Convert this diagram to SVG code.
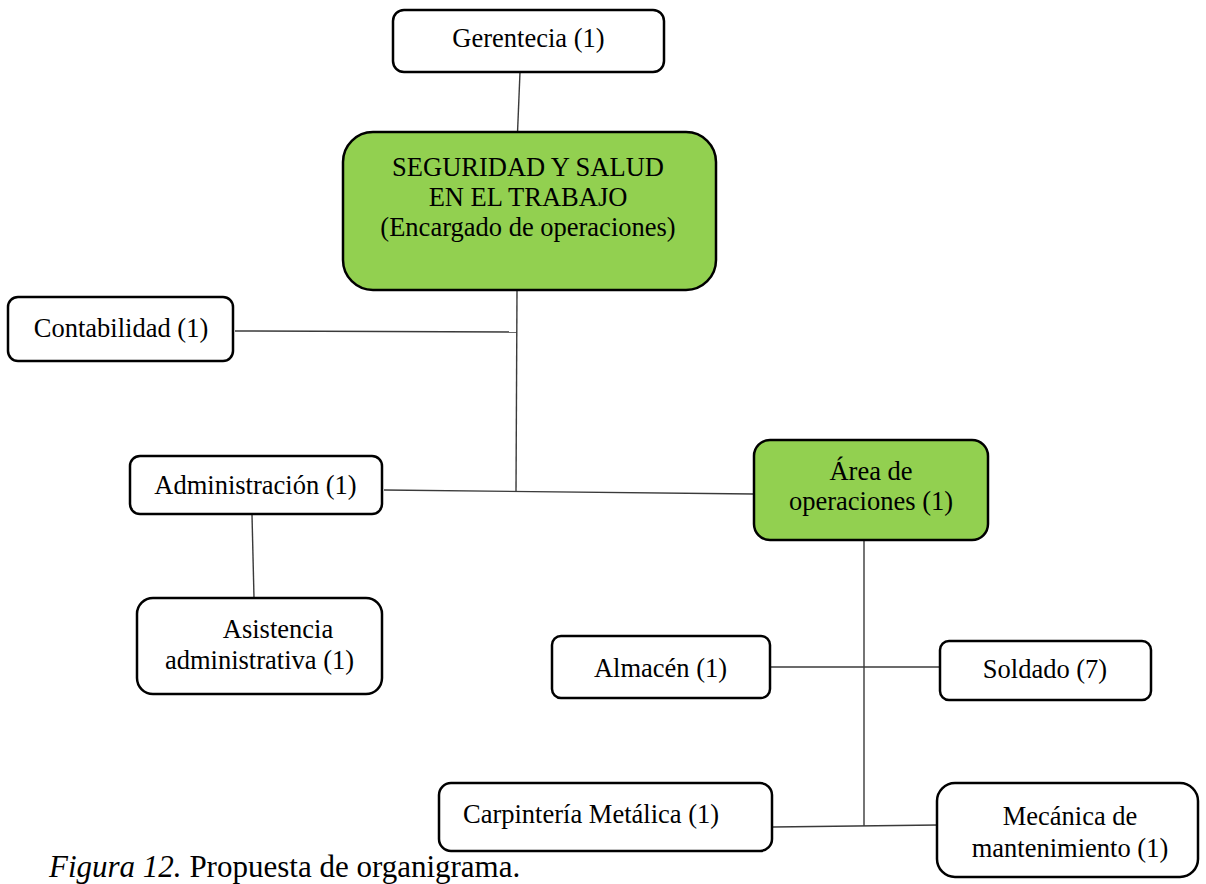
<svg xmlns="http://www.w3.org/2000/svg" width="1206" height="884" viewBox="0 0 1206 884">
<style>
.box{fill:#ffffff;stroke:#000000;stroke-width:2.5}
.green{fill:#92D050;stroke:#000000;stroke-width:2.5}
.t{font-family:"Liberation Serif","Times New Roman",serif;font-size:26.5px;fill:#000000;text-anchor:middle}
.ts{text-anchor:start}
.conn line{stroke:#3a3a3a;stroke-width:1.4}
.cap{font-family:"Liberation Serif","Times New Roman",serif;font-size:31px;fill:#000000}
</style>
<rect width="1206" height="884" fill="#ffffff"/>
<g id="connectors" class="conn">
<line x1="520" y1="72" x2="517.5" y2="133"/>
<line x1="517" y1="290" x2="516" y2="491"/>
<line x1="235" y1="331" x2="517" y2="332"/>
<line x1="384" y1="490" x2="754" y2="494"/>
<line x1="252" y1="515" x2="254" y2="598"/>
<line x1="864" y1="541" x2="864" y2="826"/>
<line x1="771" y1="667" x2="941" y2="667"/>
<line x1="773" y1="827" x2="938" y2="825"/>
</g>
<g id="gerentecia">
<rect class="box" x="393" y="10" width="271" height="62" rx="11"/>
<text class="t" x="528.5" y="47">Gerentecia (1)</text>
</g>
<g id="seguridad">
<rect class="green" x="343" y="132" width="373" height="158" rx="30"/>
<text class="t" x="528" y="176">SEGURIDAD Y SALUD</text>
<text class="t" x="528" y="206">EN EL TRABAJO</text>
<text class="t" x="528" y="236">(Encargado de operaciones)</text>
</g>
<g id="contabilidad">
<rect class="box" x="8" y="297" width="225" height="64" rx="10"/>
<text class="t" x="121" y="337">Contabilidad (1)</text>
</g>
<g id="administracion">
<rect class="box" x="130" y="456" width="252" height="58" rx="10"/>
<text class="t" x="255.5" y="494">Administración (1)</text>
</g>
<g id="asistencia">
<rect class="box" x="137" y="598" width="245" height="96" rx="16"/>
<text class="t" x="278" y="638">Asistencia</text>
<text class="t" x="259.5" y="669">administrativa (1)</text>
</g>
<g id="area-operaciones">
<rect class="green" x="754" y="440" width="234" height="100" rx="16"/>
<text class="t" x="871" y="480">Área de</text>
<text class="t" x="871" y="510">operaciones (1)</text>
</g>
<g id="almacen">
<rect class="box" x="552" y="636" width="218" height="62" rx="9"/>
<text class="t" x="660.5" y="677">Almacén (1)</text>
</g>
<g id="soldado">
<rect class="box" x="940" y="641" width="211" height="59" rx="9"/>
<text class="t" x="1045" y="678">Soldado (7)</text>
</g>
<g id="carpinteria">
<rect class="box" x="439" y="783" width="333" height="68" rx="12"/>
<text class="t ts" x="463" y="823">Carpintería Metálica (1)</text>
</g>
<g id="mecanica">
<rect class="box" x="937" y="783" width="261" height="94" rx="18"/>
<text class="t" x="1070" y="825">Mecánica de</text>
<text class="t" x="1070" y="857">mantenimiento (1)</text>
</g>
<text class="cap" x="49" y="877"><tspan font-style="italic">Figura 12.</tspan> Propuesta de organigrama.</text>
</svg>
